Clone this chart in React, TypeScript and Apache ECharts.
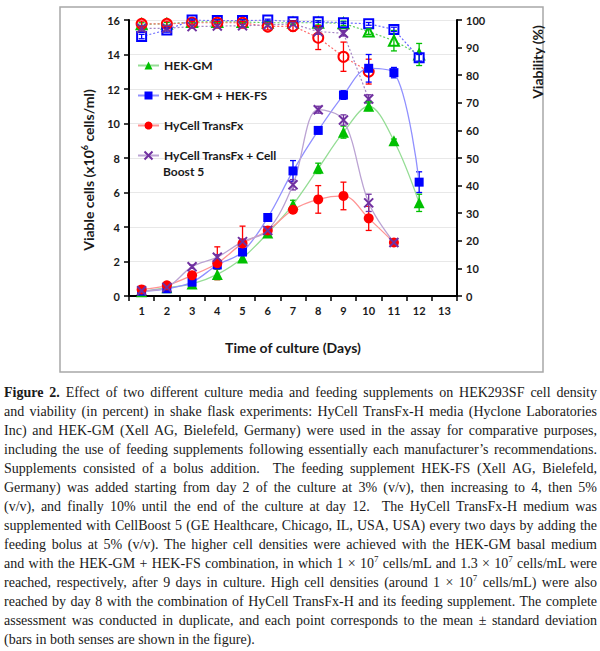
import React, { useEffect, useRef } from 'react';
import * as echarts from 'echarts';

const days = ['1', '2', '3', '4', '5', '6', '7', '8', '9', '10', '11', '12', '13'];

// Viable cells (x10^6 cells/ml)
const hekGmCells = [0.25, 0.48, 0.7, 1.25, 2.2, 3.65, 5.3, 7.4, 9.5, 11.0, 9.0, 5.4];
const hekGmCellsErr = [0.05, 0.05, 0.05, 0.3, 0.15, 0.1, 0.25, 0.3, 0.35, 0.25, 0.1, 0.5];
const hekFsCells = [0.28, 0.42, 0.8, 1.8, 2.55, 4.55, 7.25, 9.6, 11.65, 13.2, 12.95, 6.6];
const hekFsCellsErr = [0.05, 0.05, 0.1, 0.15, 0.15, 0.1, 0.6, 0.2, 0.25, 0.8, 0.3, 0.6];
const hycellCells = [0.38, 0.62, 1.2, 1.9, 3.05, 3.8, 5.0, 5.6, 5.8, 4.5, 3.1];
const hycellCellsErr = [0.05, 0.1, 0.2, 0.95, 1.0, 0.1, 0.2, 0.8, 0.8, 0.7, 0.05];
const boostCells = [0.3, 0.5, 1.7, 2.25, 3.15, 3.8, 6.45, 10.8, 10.2, 5.4, 3.1];
const boostCellsErr = [0.05, 0.05, 0.1, 0.15, 0.15, 0.1, 0.3, 0.2, 0.3, 0.5, 0.05];

// Viability (%)
const hekGmViab = [98.5, 98.6, 99.3, 99.3, 99.3, 99, 99, 99, 98.8, 95.8, 92.5, 87.5];
const hekGmViabErr = [0.5, 0.5, 0.3, 0.3, 0.3, 0.5, 0.5, 0.8, 0.8, 1, 3.7, 4];
const hekFsViab = [94, 96.4, 100, 99.8, 99.8, 100, 99.4, 99.4, 99, 98.6, 96.6, 86.3];
const hekFsViabErr = [0.8, 0.8, 0.3, 0.3, 0.3, 0.3, 0.3, 0.3, 0.3, 0.5, 0.8, 1.2];
const hycellViab = [98.6, 98.6, 99, 99, 99, 97.6, 97.8, 93.6, 86.7, 81.3];
const hycellViabErr = [1, 1, 0.5, 0.5, 0.5, 1.2, 1.8, 4.3, 5.3, 4.5];
const boostViab = [97, 97, 97.6, 97.8, 97.9, 98.2, 98.6, 95.8, 95.2, 71.4];
const boostViabErr = [1, 1, 0.5, 0.5, 0.5, 0.5, 0.5, 1, 1, 1.5];

const cellTicks = { min: 0, max: 16, interval: 2 };
const viabTicks = { min: 0, max: 100, interval: 10 };

const GREEN = '#00C000';
const BLUE = '#0000FF';
const RED = '#FF0000';
const PURPLE = '#7030A0';
const X_SYMBOL = 'path://M0,0L10,10M10,0L0,10';
const FONT = 'Lato, "Open Sans", sans-serif';
const BOOST = 'HyCell TransFx + Cell Boost 5';

function errData(means: number[], errs: number[]) {
  return means.map((m, i) => [i, m - errs[i], m + errs[i]]);
}

function errSeries(name: string, means: number[], errs: number[], color: string, yAxisIndex: number) {
  return {
    type: 'custom',
    name,
    yAxisIndex,
    silent: true,
    z: 4,
    encode: { x: 0, y: [1, 2] },
    data: errData(means, errs),
    renderItem: (params: any, api: any) => {
      const i = api.value(0);
      const lo = api.coord([i, api.value(1)]);
      const hi = api.coord([i, api.value(2)]);
      const w = 3;
      const st = { stroke: color, lineWidth: 1.3 };
      return {
        type: 'group',
        children: [
          { type: 'line', shape: { x1: lo[0], y1: lo[1], x2: hi[0], y2: hi[1] }, style: st },
          { type: 'line', shape: { x1: lo[0] - w, y1: lo[1], x2: lo[0] + w, y2: lo[1] }, style: st },
          { type: 'line', shape: { x1: hi[0] - w, y1: hi[1], x2: hi[0] + w, y2: hi[1] }, style: st },
        ],
      };
    },
  };
}

function cellSeries(name: string, data: number[], symbol: string, size: number, color: string, lineColor: string, extra: any = {}) {
  return {
    type: 'line',
    name,
    yAxisIndex: 0,
    data,
    smooth: 0.35,
    symbol,
    symbolSize: size,
    z: 5,
    lineStyle: { color: lineColor, width: 1.3 },
    itemStyle: { color, ...extra },
  };
}

function viabSeries(name: string, data: number[], symbol: string, size: number, color: string, lineColor: string, extra: any = {}) {
  return {
    type: 'line',
    name,
    yAxisIndex: 1,
    data,
    symbol,
    symbolSize: size,
    z: 3,
    lineStyle: { color: lineColor, width: 1.2, type: [2, 2] },
    itemStyle: { color, borderWidth: 1.5, ...extra },
  };
}

const Chart: React.FC = () => {
  const ref = useRef<HTMLDivElement>(null);
  useEffect(() => {
    if (!ref.current) return;
    const chart = echarts.init(ref.current, undefined, { renderer: 'svg' });
    const axisLabel = { color: '#1a1a1a', fontFamily: FONT, fontWeight: 'bold', fontSize: 11 };
    const option: any = {
      animation: false,
      backgroundColor: '#ffffff',
      grid: { left: 129, right: 143, top: 20, bottom: 84 },
      legend: {
        orient: 'vertical',
        left: 137,
        top: 58,
        padding: 0,
        itemGap: 15,
        itemWidth: 21,
        itemHeight: 10,
        textStyle: { color: '#1a1a1a', fontFamily: FONT, fontWeight: 'bold', fontSize: 12, lineHeight: 15 },
        formatter: (n: string) => (n === BOOST ? 'HyCell TransFx + Cell' : n),
        data: ['HEK-GM', 'HEK-GM + HEK-FS', 'HyCell TransFx', BOOST],
      },
      xAxis: {
        type: 'category',
        data: days,
        boundaryGap: true,
        axisLine: { lineStyle: { color: '#000', width: 2 } },
        axisTick: { show: true, length: 5, lineStyle: { color: '#000', width: 1.5 } },
        axisLabel: { ...axisLabel, margin: 9 },
        name: 'Time of culture (Days)',
        nameLocation: 'middle',
        nameGap: 44,
        nameTextStyle: { color: '#1a1a1a', fontFamily: FONT, fontWeight: 'bold', fontSize: 14 },
      },
      yAxis: [
        {
          type: 'value',
          ...cellTicks,
          axisLine: { show: true, lineStyle: { color: '#000', width: 2 } },
          axisTick: { show: true, length: 5, lineStyle: { color: '#000', width: 1.5 } },
          axisLabel: { ...axisLabel, margin: 9 },
          splitLine: { show: true, lineStyle: { color: '#e8e8e8', width: 1 } },
        },
        {
          type: 'value',
          position: 'right',
          ...viabTicks,
          axisLine: { show: true, lineStyle: { color: '#000', width: 2 } },
          axisTick: { show: true, length: 5, lineStyle: { color: '#000', width: 1.5 } },
          axisLabel: { ...axisLabel, margin: 9 },
          splitLine: { show: false },
        },
      ],
      graphic: [
        {
          type: 'rect',
          shape: { x: 60, y: 7, width: 483, height: 365 },
          style: { fill: 'none', stroke: '#a8a8a8', lineWidth: 1.5 },
          silent: true,
        },
        {
          type: 'text',
          x: 163,
          y: 171,
          style: {
            text: 'Boost 5',
            textVerticalAlign: 'middle',
            fontFamily: FONT,
            fontWeight: 'bold',
            fontSize: 12,
            fill: '#1a1a1a',
          },
        },
        {
          type: 'text',
          x: 88,
          y: 170,
          rotation: Math.PI / 2,
          style: {
            text: '{a|Viable cells (x10}{s|6}{a| cells/ml)}',
            textAlign: 'center',
            textVerticalAlign: 'middle',
            rich: {
              a: { fontFamily: FONT, fontWeight: 'bold', fontSize: 14, fill: '#1a1a1a', lineHeight: 16 },
              s: { fontFamily: FONT, fontWeight: 'bold', fontSize: 9, fill: '#1a1a1a', verticalAlign: 'top', lineHeight: 16 },
            },
          },
        },
        {
          type: 'text',
          x: 537,
          y: 62,
          rotation: Math.PI / 2,
          style: {
            text: 'Viability (%)',
            textAlign: 'center',
            textVerticalAlign: 'middle',
            fontFamily: FONT,
            fontWeight: 'bold',
            fontSize: 14,
            fill: '#1a1a1a',
          },
        },
      ],
      series: [
        viabSeries('HEK-GM viability', hekGmViab, 'emptyTriangle', 10, GREEN, '#5fd05f'),
        viabSeries('HEK-GM + HEK-FS viability', hekFsViab, 'emptyRect', 9, BLUE, '#6868ff'),
        viabSeries('HyCell TransFx viability', hycellViab, 'emptyCircle', 10, RED, '#ff6a6a'),
        viabSeries('HyCell TransFx + Cell Boost 5 viability', boostViab, X_SYMBOL, 9, PURPLE, '#a585c5', { borderColor: PURPLE, borderWidth: 2 }),
        errSeries('err1', hekGmViab, hekGmViabErr, GREEN, 1),
        errSeries('err2', hekFsViab, hekFsViabErr, BLUE, 1),
        errSeries('err3', hycellViab, hycellViabErr, RED, 1),
        errSeries('err4', boostViab, boostViabErr, PURPLE, 1),
        cellSeries('HEK-GM', hekGmCells, 'triangle', 11, GREEN, '#95dd95'),
        cellSeries('HEK-GM + HEK-FS', hekFsCells, 'rect', 9, BLUE, '#9090ff'),
        cellSeries('HyCell TransFx', hycellCells, 'circle', 10, RED, '#ff9494'),
        cellSeries(BOOST, boostCells, X_SYMBOL, 9, PURPLE, '#bba3d3', { borderColor: PURPLE, borderWidth: 2 }),
        errSeries('err5', hekGmCells, hekGmCellsErr, GREEN, 0),
        errSeries('err6', hekFsCells, hekFsCellsErr, BLUE, 0),
        errSeries('err7', hycellCells, hycellCellsErr, RED, 0),
        errSeries('err8', boostCells, boostCellsErr, PURPLE, 0),
      ],
    };
    chart.setOption(option);
    return () => chart.dispose();
  }, []);
  return <div ref={ref} style={{ position: 'absolute', left: 0, top: 0, width: 600, height: 380 }} />;
};

const sup = (t: string) => (
  <sup style={{ fontSize: 9, verticalAlign: 'super', lineHeight: 0 }}>{t}</sup>
);

const lineStyle: React.CSSProperties = {
  height: 19,
  lineHeight: '19px',
  textAlign: 'justify',
  textAlignLast: 'justify' as any,
};

const Caption: React.FC = () => (
  <div
    style={{
      position: 'absolute',
      left: 4,
      top: 383,
      width: 593,
      fontFamily: '"Liberation Serif", "DejaVu Serif", serif',
      fontSize: 14,
      color: '#1a1a1a',
    }}
  >
    <div style={lineStyle}><b>Figure 2.</b> Effect of two different culture media and feeding supplements on HEK293SF cell density</div>
    <div style={lineStyle}>and viability (in percent) in shake flask experiments: HyCell TransFx-H media (Hyclone Laboratories</div>
    <div style={lineStyle}>Inc) and HEK-GM (Xell AG, Bielefeld, Germany) were used in the assay for comparative purposes,</div>
    <div style={lineStyle}>including the use of feeding supplements following essentially each manufacturer’s recommendations.</div>
    <div style={lineStyle}>Supplements consisted of a bolus addition.&nbsp; The feeding supplement HEK-FS (Xell AG, Bielefeld,</div>
    <div style={lineStyle}>Germany) was added starting from day 2 of the culture at 3% (v/v), then increasing to 4, then 5%</div>
    <div style={lineStyle}>(v/v), and finally 10% until the end of the culture at day 12.&nbsp; The HyCell TransFx-H medium was</div>
    <div style={lineStyle}>supplemented with CellBoost 5 (GE Healthcare, Chicago, IL, USA, USA) every two days by adding the</div>
    <div style={lineStyle}>feeding bolus at 5% (v/v). The higher cell densities were achieved with the HEK-GM basal medium</div>
    <div style={lineStyle}>and with the HEK-GM + HEK-FS combination, in which 1 × 10{sup('7')} cells/mL and 1.3 × 10{sup('7')} cells/mL were</div>
    <div style={lineStyle}>reached, respectively, after 9 days in culture. High cell densities (around 1 × 10{sup('7')} cells/mL) were also</div>
    <div style={lineStyle}>reached by day 8 with the combination of HyCell TransFx-H and its feeding supplement. The complete</div>
    <div style={lineStyle}>assessment was conducted in duplicate, and each point corresponds to the mean ± standard deviation</div>
    <div style={{ ...lineStyle, textAlignLast: 'left' as any }}>(bars in both senses are shown in the figure).</div>
  </div>
);

export default function App() {
  return (
    <div style={{ position: 'absolute', left: 0, top: 0, width: 600, height: 651, background: '#fff', overflow: 'hidden' }}>
      <Chart />
      <Caption />
    </div>
  );
}
